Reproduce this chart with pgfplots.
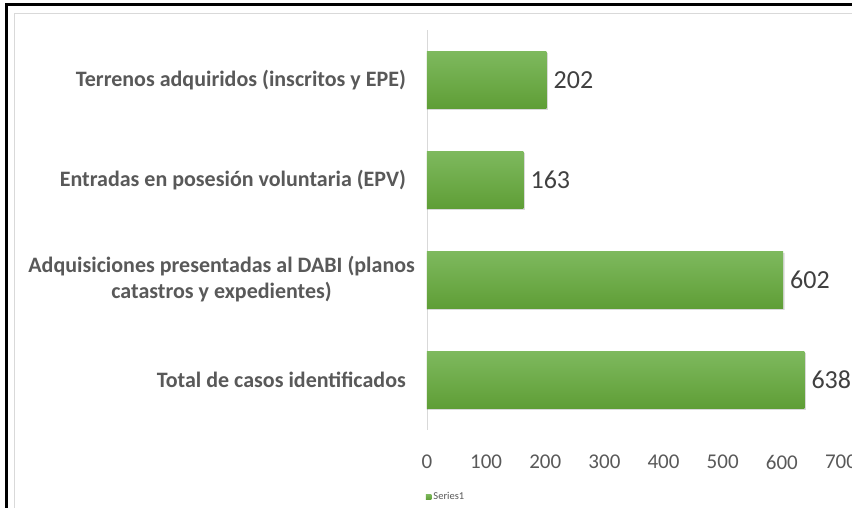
\documentclass[border=0pt]{standalone}
\usepackage{fontspec}
\setmainfont{Carlito}
\usepackage{pgfplots}
\pgfplotsset{compat=1.18}
\definecolor{labgray}{HTML}{595959}
\definecolor{valgray}{HTML}{404040}
\definecolor{bartop}{HTML}{7EB95E}
\definecolor{barbot}{HTML}{5F9E36}
\definecolor{framegray}{HTML}{D9D9D9}
\pgfplotsset{
  mybar/.style={draw=none, top color=bartop, bottom color=barbot, bar shift=0pt,
    nodes near coords,
    every node near coord/.append style={font=\fontsize{26}{30}\selectfont, text=valgray, anchor=west, inner sep=0pt, xshift=7pt}},
  myshadow/.style={draw=none, fill=black, fill opacity=0.15, bar shift=-1.5pt, forget plot},
}
\begin{document}
\begin{tikzpicture}
\useasboundingbox (0,0) rectangle (852pt,508pt);
\clip (0,0) rectangle (852pt,508pt);
\fill[white] (0,0) rectangle (852pt,508pt);
\draw[framegray, line width=1pt] (14.5pt,494.5pt) rectangle (1000pt,-100pt);
\draw[black, line width=2.5pt] (6.3pt,503.5pt) rectangle (1000pt,-100pt);
\begin{axis}[
  at={(427pt,78pt)}, anchor=south west,
  scale only axis, width=414pt, height=400pt,
  xbar, bar width=57pt,
  xmin=0, xmax=700, ymin=-0.5, ymax=3.5,
  xtick={0,100,...,700},
  ytick={0,1,2,3},
  yticklabels={Total de casos identificados,
    {\begin{tabular}{@{}c@{}}Adquisiciones presentadas al DABI (planos\\catastros y expedientes)\end{tabular}\kern-9pt},
    Entradas en posesión voluntaria (EPV),
    Terrenos adquiridos (inscritos y EPE)},
  axis lines*=left,
  x axis line style={draw=none},
  y axis line style={draw=framegray, line width=0.8pt},
  major tick length=0pt,
  /pgf/number format/assume math mode=true,
  xticklabel style={font=\fontsize{21}{24}\selectfont, text=labgray, anchor=center, yshift=-32pt},
  yticklabel style={font=\fontsize{22}{26}\selectfont\bfseries, text=labgray, anchor=east, inner sep=0pt, xshift=-21pt},
  legend style={at={(axis description cs:-0.003,-0.1675)}, anchor=west, draw=none, fill=none,
    font=\fontsize{10.5}{12}\selectfont, text=labgray, inner sep=0pt},
  legend image code/.code={\fill[barbot] (0pt,-2.8pt) rectangle (5.5pt,2.8pt);},
]
\addplot[myshadow] coordinates {(640.5,0) (604.5,1) (165.5,2) (204.5,3)};
\addplot[mybar] coordinates {(638,0)};
\addlegendentry{Series1}
\addplot[mybar, forget plot] coordinates {(602,1)};
\addplot[mybar, forget plot] coordinates {(163,2)};
\addplot[mybar, forget plot] coordinates {(202,3)};
\end{axis}
\end{tikzpicture}
\end{document}
